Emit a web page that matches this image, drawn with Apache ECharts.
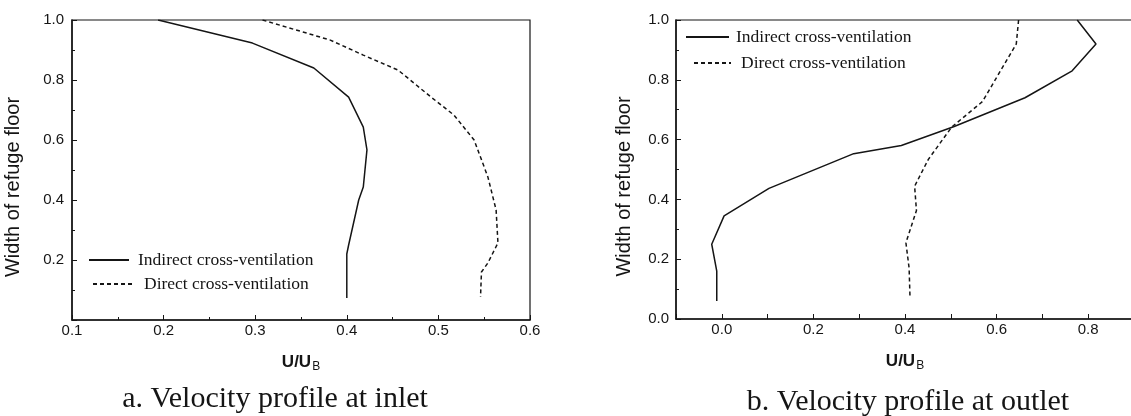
<!DOCTYPE html>
<html><head><meta charset="utf-8">
<script src="https://cdn.jsdelivr.net/npm/echarts@6/dist/echarts.min.js"></script>
<style>html,body{margin:0;padding:0;background:#fff}#c{width:1131px;height:416px}</style>
</head><body><div id="c"></div>
<script>
const seriesNames = ['Indirect cross-ventilation', 'Direct cross-ventilation'];
const captions = ['a. Velocity profile at inlet', 'b. Velocity profile at outlet'];
const yAxisTitle = 'Width of refuge floor';
// [U/UB, width of refuge floor]
const inletIndirect = [[0.194,1.0],[0.297,0.923],[0.364,0.84],[0.402,0.743],[0.418,0.643],[0.422,0.567],[0.418,0.443],[0.413,0.4],[0.402,0.25],[0.4,0.22],[0.4,0.073]];
const inletDirect = [[0.308,1.0],[0.382,0.933],[0.418,0.883],[0.456,0.833],[0.492,0.743],[0.517,0.683],[0.539,0.6],[0.554,0.477],[0.563,0.367],[0.565,0.257],[0.554,0.19],[0.547,0.16],[0.546,0.077]];
const outletIndirect = [[0.776,1.0],[0.817,0.92],[0.765,0.83],[0.662,0.74],[0.506,0.643],[0.392,0.58],[0.288,0.553],[0.103,0.437],[0.005,0.345],[-0.022,0.25],[-0.011,0.16],[-0.011,0.06]];
const outletDirect = [[0.648,1.0],[0.643,0.92],[0.569,0.727],[0.502,0.642],[0.451,0.534],[0.421,0.444],[0.425,0.363],[0.402,0.255],[0.409,0.17],[0.411,0.069]];
const inletYLabels = ['0.2','0.4','0.6','0.8','1.0'];
const outletXLabels = ['0.0','0.2','0.4','0.6','0.8'];

const ink = '#151515';
const sans = 'Liberation Sans';
const serif = 'Liberation Serif';

function fmt(v){ return (Math.round(v*10)/10).toFixed(1); }

function xAxisCfg(gi, min, max, interval, labelFn, minor){
  return {
    type:'value', gridIndex:gi, min:min, max:max, interval:interval,
    name:'{u|U/U}{b|B}', nameLocation:'middle', nameGap:31,
    nameTextStyle:{rich:{
      u:{fontFamily:sans, fontWeight:'bold', fontSize:17, color:ink},
      b:{fontFamily:sans, fontSize:12, color:ink, padding:[10,0,0,1]}
    }},
    axisLine:{show:true, onZero:false, lineStyle:{color:ink, width:1.5}},
    axisTick:{show:true, inside:true, length:5, lineStyle:{color:ink, width:1}},
    minorTick:{show:minor, splitNumber:2, length:3, lineStyle:{color:ink, width:1}},
    splitLine:{show:false},
    axisLabel:{margin:3, interval:0, fontFamily:sans, fontSize:15, color:ink, formatter:labelFn}
  };
}
function yAxisCfg(gi, labels, gap, margin){
  return {
    type:'value', gridIndex:gi, min:0, max:1, interval:0.2,
    name:yAxisTitle, nameLocation:'middle', nameGap:gap,
    nameTextStyle:{fontFamily:sans, fontSize:20, color:ink, padding:[0,34,0,0]},
    axisLine:{show:true, onZero:false, lineStyle:{color:ink, width:1.5}},
    axisTick:{show:true, inside:true, length:5, lineStyle:{color:ink, width:1}},
    minorTick:{show:true, splitNumber:2, length:3, lineStyle:{color:ink, width:1}},
    splitLine:{show:false},
    axisLabel:{margin:margin, fontFamily:sans, fontSize:15, color:ink,
      formatter:v => labels.indexOf(fmt(v)) >= 0 ? fmt(v) : ''}
  };
}
function lineSeries(name, data, xi, dashed){
  return {
    type:'line', name:name, data:data, xAxisIndex:xi, yAxisIndex:xi,
    symbol:'none', showSymbol:false, smooth:false, silent:true, animation:false,
    lineStyle:{color:ink, width:1.5, type: dashed ? [4,3] : 'solid'},
    itemStyle:{color:ink}
  };
}
function legendCfg(name, left, centerY, w, pad){
  return {
    data:[name], left:left, top:centerY-9, padding:0, selectedMode:false,
    itemWidth:w, itemHeight:14,
    itemStyle:{opacity:0},
    textStyle:{fontFamily:serif, fontSize:17.5, lineHeight:18, color:ink, padding:[0,0,0,pad]}
  };
}

const chart = echarts.init(document.getElementById('c'), null, {renderer:'canvas'});
chart.setOption({
  backgroundColor:'#ffffff',
  animation:false,
  grid:[
    {left:72, top:20, width:458, height:300, show:true, borderColor:ink, borderWidth:1.2, containLabel:false, outerBoundsMode:'none'},
    {left:676, top:20, width:458, height:299, show:true, borderColor:ink, borderWidth:1.2, containLabel:false, outerBoundsMode:'none'}
  ],
  xAxis:[
    xAxisCfg(0, 0.1, 0.6, 0.1, v => fmt(v), true),
    xAxisCfg(1, -0.1, 0.9, 0.1, v => outletXLabels.indexOf(fmt(v)) >= 0 ? fmt(v) : '', false)
  ],
  yAxis:[
    yAxisCfg(0, inletYLabels, 49, 8),
    yAxisCfg(1, ['0.0'].concat(inletYLabels), 42, 7)
  ],
  legend:[
    legendCfg(seriesNames[0], 88, 260, 40, 4),
    legendCfg(seriesNames[1], 92, 284, 41, 5),
    legendCfg(seriesNames[0], 685, 37, 43, 2),
    legendCfg(seriesNames[1], 693, 63, 37, 5)
  ],
  title:[
    {text:captions[0], left:275, top:384, textAlign:'center', padding:0,
     textStyle:{fontFamily:serif, fontSize:30, fontWeight:'normal', color:ink}},
    {text:captions[1], left:908, top:387, textAlign:'center', padding:0,
     textStyle:{fontFamily:serif, fontSize:30, fontWeight:'normal', color:ink}}
  ],
  series:[
    lineSeries(seriesNames[0], inletIndirect, 0, false),
    lineSeries(seriesNames[1], inletDirect, 0, true),
    lineSeries(seriesNames[0], outletIndirect, 1, false),
    lineSeries(seriesNames[1], outletDirect, 1, true)
  ]
});
</script>
</body></html>
